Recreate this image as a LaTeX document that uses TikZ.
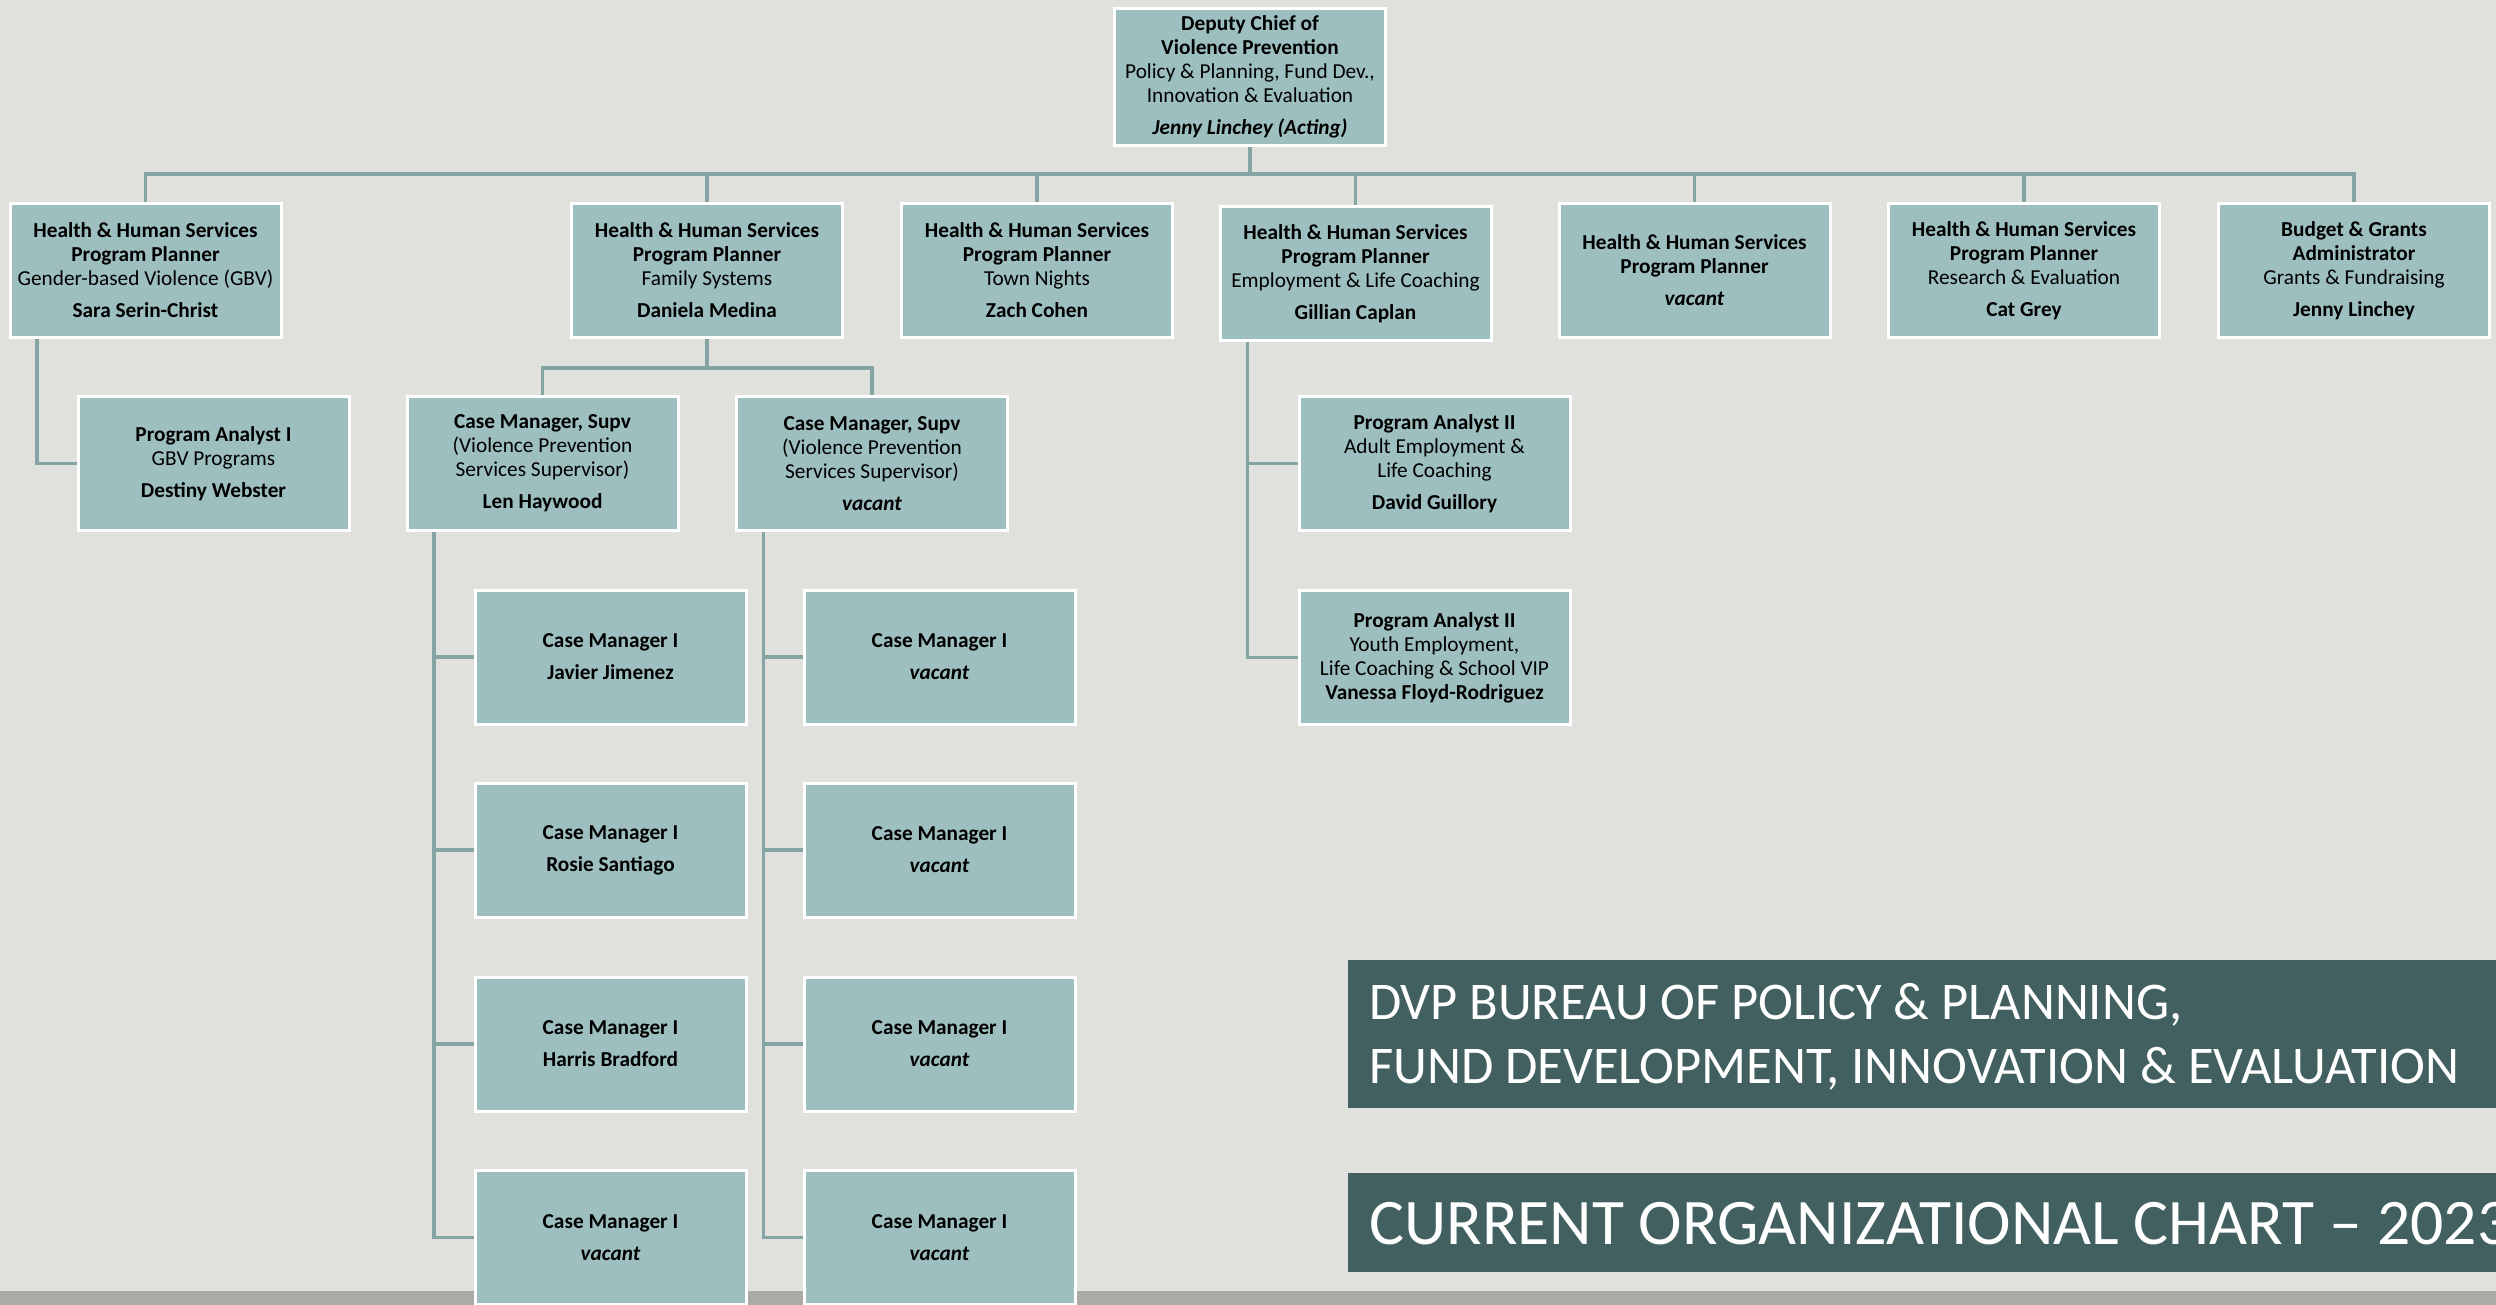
\documentclass[tikz,border=0pt]{standalone}
\usepackage{fontspec}
\usepackage{graphicx}
\setmainfont{Carlito}
\definecolor{bgc}{RGB}{224,225,220}
\definecolor{boxc}{RGB}{158,191,191}
\definecolor{connc}{RGB}{133,165,165}
\definecolor{banc}{RGB}{66,96,96}
\definecolor{stripc}{RGB}{170,171,166}
\pgfdeclarelayer{base}
\pgfdeclarelayer{conn}
\pgfsetlayers{base,conn,main}
\begin{document}
\begin{tikzpicture}[x=1pt,y=-1pt,
  box/.style={draw=white,line width=3pt,fill=boxc,minimum width=271pt,minimum height=134pt,
    inner sep=0pt,align=center,font=\fontsize{21.3}{24}\selectfont,text=black},
  link/.style={draw=connc,line width=3.5pt},
  titletext/.style={anchor=base west,inner sep=0pt,text=white}]
\useasboundingbox (0,0) rectangle (2496,1305);
\clip (0,0) rectangle (2496,1305);
\begin{pgfonlayer}{base}
  \fill[bgc] (0,0) rectangle (2496,1305);
  \fill[stripc] (0,1291) rectangle (2496,1305);
  \fill[banc] (1348,960) rectangle (2496,1108);
  \fill[banc] (1348,1173) rectangle (2496,1272);
\end{pgfonlayer}

% titles
\node[titletext] (t1) at (1369,1019) {\resizebox{813pt}{\height}{\fontsize{53}{53}\selectfont DVP BUREAU OF POLICY \& PLANNING,}};
\node[titletext] (t2) at (1369,1083) {\resizebox{1090pt}{\height}{\fontsize{53}{53}\selectfont FUND DEVELOPMENT, INNOVATION \& EVALUATION}};
\node[titletext] (t3) at (1369,1244) {\resizebox{1141pt}{\height}{\fontsize{65}{65}\selectfont CURRENT ORGANIZATIONAL CHART -- 2023}};

% top
\node[box,minimum height=137pt] (top) at (1250,77) {\textbf{Deputy Chief of}\\\textbf{Violence Prevention}\\Policy \& Planning, Fund Dev.,\\Innovation \& Evaluation\\[8pt]\textbf{\textit{Jenny Linchey (Acting)}}};

% row 2
\node[box] (b1) at (145.5,270.5) {\textbf{Health \& Human Services}\\\textbf{Program Planner}\\Gender-based Violence (GBV)\\[8pt]\textbf{Sara Serin-Christ}};
\node[box] (b2) at (707,270.5) {\textbf{Health \& Human Services}\\\textbf{Program Planner}\\Family Systems\\[8pt]\textbf{Daniela Medina}};
\node[box] (b3) at (1037,270.5) {\textbf{Health \& Human Services}\\\textbf{Program Planner}\\Town Nights\\[8pt]\textbf{Zach Cohen}};
\node[box] (b4) at (1355.5,273.5) {\textbf{Health \& Human Services}\\\textbf{Program Planner}\\Employment \& Life Coaching\\[8pt]\textbf{Gillian Caplan}};
\node[box] (b5) at (1694.5,270.5) {\textbf{Health \& Human Services}\\\textbf{Program Planner}\\[8pt]\textbf{\textit{vacant}}};
\node[box] (b6) at (2024,270.5) {\textbf{Health \& Human Services}\\\textbf{Program Planner}\\Research \& Evaluation\\[8pt]\textbf{Cat Grey}};
\node[box] (b7) at (2354,270.5) {\textbf{Budget \& Grants}\\\textbf{Administrator}\\Grants \& Fundraising\\[8pt]\textbf{Jenny Linchey}};

% row 3
\node[box] (pa1) at (213.5,463.5) {\textbf{Program Analyst I}\\GBV Programs\\[8pt]\textbf{Destiny Webster}};
\node[box] (cms1) at (542.5,463.5) {\textbf{Case Manager, Supv}\\(Violence Prevention\\Services Supervisor)\\[8pt]\textbf{Len Haywood}};
\node[box] (cms2) at (872,463.5) {\textbf{Case Manager, Supv}\\(Violence Prevention\\Services Supervisor)\\[8pt]\textbf{\textit{vacant}}};
\node[box] (pa2a) at (1434.5,463.5) {\textbf{Program Analyst II}\\Adult Employment \&\\Life Coaching\\[8pt]\textbf{David Guillory}};
\node[box] (pa2b) at (1434.5,657.5) {\textbf{Program Analyst II}\\Youth Employment,\\Life Coaching \& School VIP\\\textbf{Vanessa Floyd-Rodriguez}};

% case managers
\node[box] (cl1) at (610.5,657) {\textbf{Case Manager I}\\[8pt]\textbf{Javier Jimenez}};
\node[box] (cl2) at (610.5,850) {\textbf{Case Manager I}\\[8pt]\textbf{Rosie Santiago}};
\node[box] (cl3) at (610.5,1044) {\textbf{Case Manager I}\\[8pt]\textbf{Harris Bradford}};
\node[box] (cl4) at (610.5,1237.5) {\textbf{Case Manager I}\\[8pt]\textbf{\textit{vacant}}};
\node[box] (cr1) at (939.5,657) {\textbf{Case Manager I}\\[8pt]\textbf{\textit{vacant}}};
\node[box] (cr2) at (939.5,850) {\textbf{Case Manager I}\\[8pt]\textbf{\textit{vacant}}};
\node[box] (cr3) at (939.5,1044) {\textbf{Case Manager I}\\[8pt]\textbf{\textit{vacant}}};
\node[box] (cr4) at (939.5,1237.5) {\textbf{Case Manager I}\\[8pt]\textbf{\textit{vacant}}};

% connectors
\begin{pgfonlayer}{conn}
  \coordinate (bus) at (0,174);
  \coordinate (fam) at (0,368);
  \draw[link] (b1.north) -- (b1.north |- bus) -- (b7.north |- bus) -- (b7.north);
  \foreach \n in {b2,b3,b4,b5,b6} {\draw[link] (\n.north) -- (\n.north |- bus);}
  \draw[link] (top.south) -- (top.south |- bus);
  % GBV
  \draw[link] ([xshift=-108.5pt]b1.south) |- (pa1.west);
  % Family systems
  \draw[link] (b2.south) -- (b2.south |- fam);
  \draw[link] (cms1.north) -- (cms1.north |- fam) -| (cms2.north);
  % left column
  \coordinate (vl) at ([xshift=-108.5pt]cms1.south);
  \draw[link] (vl) |- (cl4.west);
  \foreach \n in {cl1,cl2,cl3} {\draw[link] (\n.west) -- (\n.west -| vl);}
  % right column
  \coordinate (vr) at ([xshift=-108.5pt]cms2.south);
  \draw[link] (vr) |- (cr4.west);
  \foreach \n in {cr1,cr2,cr3} {\draw[link] (\n.west) -- (\n.west -| vr);}
  % employment
  \coordinate (ve) at ([xshift=-108pt]b4.south);
  \draw[link] (ve) |- (pa2b.west);
  \draw[link] (pa2a.west) -- (pa2a.west -| ve);
\end{pgfonlayer}
\end{tikzpicture}
\end{document}
